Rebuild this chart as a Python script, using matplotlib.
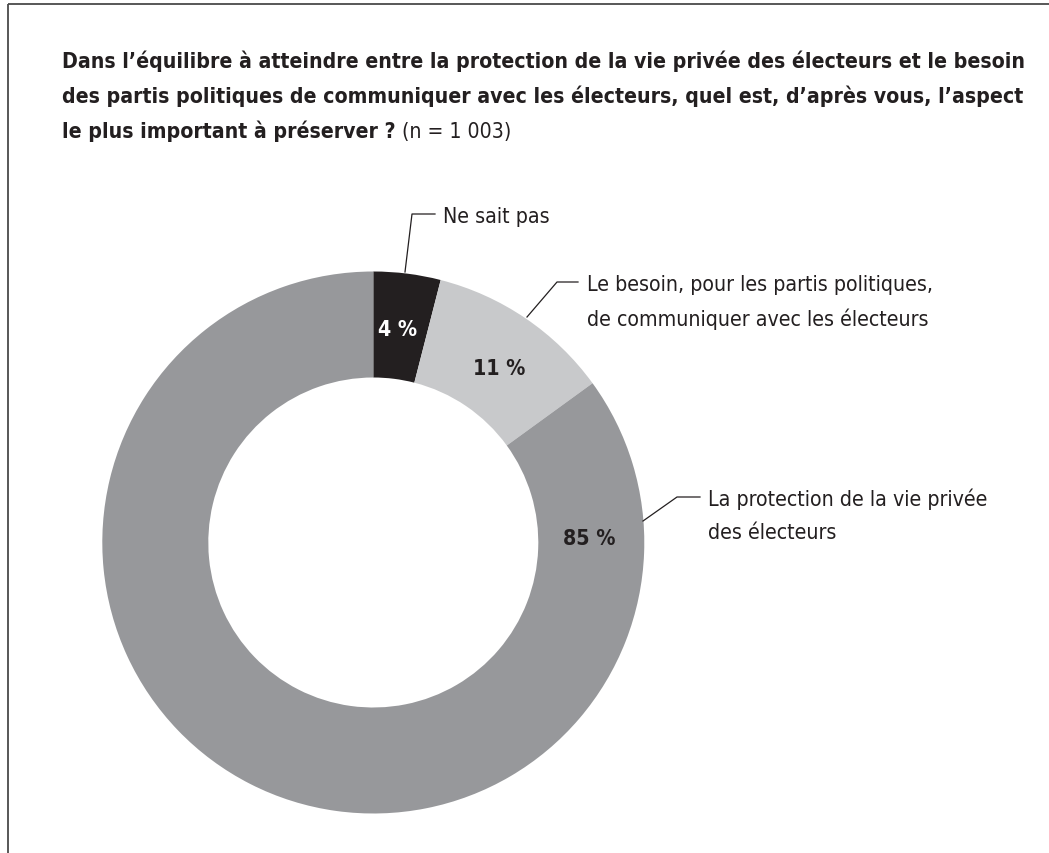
import matplotlib
matplotlib.use("Agg")
import matplotlib.pyplot as plt
from matplotlib import font_manager

categories = ["Ne sait pas",
              "Le besoin, pour les partis politiques,\nde communiquer avec les électeurs",
              "La protection de la vie privée\ndes électeurs"]
values = [4, 11, 85]
pct_labels = ["4 %", "11 %", "85 %"]
colors = ["#231f20", "#c8c9cb", "#97989b"]

title_lines = ["Dans l’équilibre à atteindre entre la protection de la vie privée des électeurs et le besoin",
               "des partis politiques de communiquer avec les électeurs, quel est, d’après vous, l’aspect",
               "le plus important à préserver ?"]
title_suffix = " (n = 1 003)"

names = {f.name for f in font_manager.fontManager.ttflist}
FONT = "Liberation Sans Narrow" if "Liberation Sans Narrow" in names else "DejaVu Sans"
stretch = "normal" if FONT == "Liberation Sans Narrow" else "condensed"
plt.rcParams["font.family"] = [FONT, "DejaVu Sans"]
plt.rcParams["font.stretch"] = stretch

W, H = 1049, 854
fig = plt.figure(figsize=(W / 100, H / 100), dpi=100)
ax = fig.add_axes([0, 0, 1, 1])
ax.set_xlim(0, W)
ax.set_ylim(0, H)
ax.set_aspect("equal")
ax.axis("off")

def py(y):
    return H - y

TXT = "#231f20"

# frame (top and left)
ax.plot([7.5, W], [py(5), py(5)], color="#4a4a4a", lw=1.3, solid_capstyle="butt")
ax.plot([7.5, 7.5], [py(5), 0], color="#4a4a4a", lw=1.3, solid_capstyle="butt")

# donut
cx, cy = 373.3, py(543.5)
R = 271
ax.pie(values, colors=colors, startangle=90, counterclock=False,
       radius=R, center=(cx, cy),
       wedgeprops=dict(width=106, edgecolor="none", linewidth=0))
ax.set_xlim(0, W)
ax.set_ylim(0, H)
ax.axis("off")

# title, fit line 1 width
fig.canvas.draw()
r = fig.canvas.get_renderer()
fs = 15
t = ax.text(62, py(68), title_lines[0], fontsize=fs, fontweight="bold", color=TXT, va="baseline")
w = t.get_window_extent(r).width
fs = fs * 960 / w
t.set_fontsize(fs)
ax.text(62, py(103), title_lines[1], fontsize=fs, fontweight="bold", color=TXT, va="baseline")
t3 = ax.text(62, py(138), title_lines[2], fontsize=fs, fontweight="bold", color=TXT, va="baseline")
fig.canvas.draw()
w3 = t3.get_window_extent(r).width
ax.text(62 + w3, py(138), title_suffix, fontsize=fs, color=TXT, va="baseline")

lfs = fs * 1.01
cap_half = 0.365 * lfs * 100 / 72

def label(x, y_center, s, **kw):
    ax.text(x, py(y_center + cap_half), s, fontsize=lfs, va="baseline", **kw)

# percent labels
label(398, 328, pct_labels[0], fontweight="bold", color="white", ha="center")
label(499, 367, pct_labels[1], fontweight="bold", color=TXT, ha="center")
label(589, 537, pct_labels[2], fontweight="bold", color=TXT, ha="center")

# leader lines and category labels
lk = dict(color=TXT, lw=0.9)
ax.plot([405, 412, 435], [py(273), py(215), py(215)], **lk)
label(443, 215, categories[0], color=TXT, ha="left")

ax.plot([527, 557, 578], [py(318), py(283), py(283)], **lk)
l1, l2 = categories[1].split("\n")
label(587, 283, l1, color=TXT, ha="left")
label(587, 318, l2, color=TXT, ha="left")

ax.plot([643, 677, 700], [py(522), py(498), py(498)], **lk)
l1, l2 = categories[2].split("\n")
label(708, 498, l1, color=TXT, ha="left")
label(708, 531, l2, color=TXT, ha="left")

fig.savefig("out.png", dpi=100)
